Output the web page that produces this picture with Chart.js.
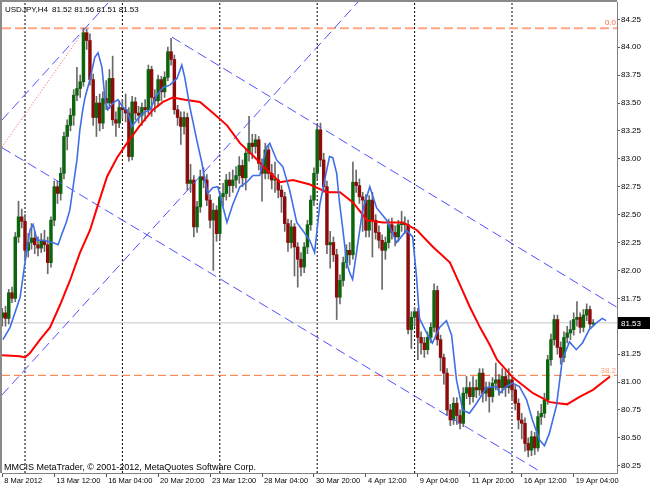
<!DOCTYPE html>
<html><head><meta charset="utf-8">
<script src="https://cdn.jsdelivr.net/npm/chart.js@4.4.1/dist/chart.umd.min.js"></script>
<style>html,body{margin:0;padding:0;background:#fff;overflow:hidden}canvas{display:block}</style>
</head><body>
<canvas id="c" width="650" height="488"></canvas>
<script>
// ---- data (USDJPY, H4) ----
const symbolTitle = 'USDJPY,H4';
const copyrightText = 'MMCIS MetaTrader, \u00A9 2001-2012, MetaQuotes Software Corp.';
const opens = [81.58,81.62,81.57,81.80,81.75,82.30,82.48,82.44,82.18,82.25,82.29,82.23,82.20,82.27,82.23,82.07,82.45,82.75,82.69,82.87,
83.20,83.30,83.39,83.57,83.63,83.69,84.13,84.06,83.71,83.37,83.50,83.32,83.54,83.50,83.72,83.35,83.32,83.46,83.44,83.41,
83.02,83.51,83.41,83.39,83.46,83.44,83.80,83.55,83.52,83.71,83.60,83.73,83.96,83.89,83.44,83.37,83.29,83.37,82.78,82.81,
82.39,82.57,82.84,82.81,82.63,82.45,82.54,82.33,82.66,82.69,82.81,82.76,82.81,82.85,82.94,82.83,83.05,83.14,83.11,83.17,
82.96,82.87,83.08,82.87,82.81,82.81,82.72,82.66,82.42,82.25,82.39,82.21,82.10,82.03,82.21,82.41,82.63,82.87,83.26,82.99,
82.75,82.23,82.25,82.14,81.76,81.91,82.07,82.18,82.14,82.79,82.76,82.66,82.63,82.36,82.63,82.45,82.34,82.27,82.18,82.25,
82.41,82.34,82.30,82.41,82.42,82.41,81.47,81.58,81.63,81.40,81.35,81.29,81.40,81.49,81.82,81.38,81.22,81.08,80.75,80.66,
80.81,80.70,80.63,80.90,80.95,80.87,80.95,80.93,81.08,80.90,80.95,80.87,80.99,81.02,80.95,81.05,80.95,81.02,80.93,80.81,
80.66,80.63,80.45,80.39,80.51,80.41,80.69,80.72,80.84,81.20,81.38,81.56,81.31,81.22,81.40,81.44,81.47,81.56,81.58,81.49,
81.60,81.65,81.52];
const highs = [81.66,81.68,81.83,81.85,82.34,82.62,82.55,82.50,82.33,82.42,82.35,82.30,82.33,82.36,82.30,82.48,82.80,82.80,82.92,83.24,
83.35,83.45,83.62,83.82,83.75,84.17,84.16,84.12,83.76,83.56,83.58,83.60,83.70,83.80,83.92,83.42,83.52,83.53,83.58,83.46,
83.56,83.55,83.47,83.50,83.53,83.84,83.83,83.62,83.75,83.74,83.78,84.00,84.08,83.93,83.48,83.42,83.42,83.41,82.95,82.85,
82.62,82.90,82.92,82.86,82.68,82.60,82.58,82.70,82.78,82.86,82.88,82.90,82.93,83.02,82.99,83.09,83.38,83.22,83.22,83.20,
83.00,83.14,83.12,82.95,82.97,82.86,82.76,82.70,82.46,82.45,82.42,82.25,82.16,82.25,82.45,82.67,82.92,83.30,83.32,83.05,
82.80,82.35,82.30,82.19,81.96,82.12,82.23,82.25,82.97,82.90,82.82,82.70,82.68,82.67,82.70,82.50,82.40,82.32,82.30,82.46,
82.47,82.40,82.45,82.53,82.48,82.45,81.63,81.67,81.66,81.45,81.40,81.45,81.53,81.88,81.86,81.42,81.25,81.12,80.80,80.86,
80.86,80.75,80.95,81.05,81.00,81.05,81.02,81.12,81.12,81.00,81.00,81.04,81.17,81.07,81.12,81.10,81.12,81.06,80.97,80.85,
80.72,80.68,80.50,80.56,80.55,80.74,80.80,80.90,81.24,81.43,81.60,81.60,81.36,81.45,81.50,81.55,81.62,81.72,81.62,81.65,
81.70,81.68,81.56];
const lows = [81.50,81.50,81.52,81.71,81.72,82.25,82.38,82.10,82.12,82.19,82.15,82.13,82.16,82.17,81.97,82.03,82.40,82.60,82.63,82.82,
83.08,83.25,83.30,83.52,83.55,83.65,83.98,83.66,83.30,83.20,83.25,83.27,83.44,83.45,83.30,83.20,83.28,83.36,83.33,82.98,
82.99,83.35,83.32,83.30,83.34,83.40,83.38,83.42,83.47,83.52,83.55,83.70,83.84,83.40,83.30,83.13,83.22,82.72,82.70,82.30,
82.34,82.52,82.74,82.58,82.38,82.00,82.26,82.28,82.58,82.63,82.66,82.70,82.74,82.78,82.75,82.72,82.98,83.00,83.05,82.90,
82.62,82.82,82.82,82.73,82.70,82.65,82.52,82.35,82.17,82.20,81.95,81.85,81.95,81.98,82.15,82.36,82.58,82.82,82.93,82.70,
82.15,82.02,82.08,81.56,81.70,81.86,82.02,82.05,82.10,82.70,82.60,82.35,82.30,82.30,82.12,82.28,82.20,81.83,82.10,82.20,
82.28,82.22,82.26,82.35,82.33,81.43,81.30,81.50,81.20,81.25,81.22,81.25,81.35,81.45,81.33,81.10,80.98,80.70,80.61,80.62,
80.62,80.58,80.60,80.85,80.80,80.82,80.86,80.88,80.82,80.83,80.73,80.82,80.93,80.88,80.90,80.87,80.90,80.85,80.75,80.58,
80.49,80.38,80.33,80.34,80.35,80.38,80.62,80.68,80.80,81.15,81.33,81.25,81.16,81.18,81.35,81.38,81.42,81.50,81.44,81.45,
81.55,81.48,81.51];
const closes = [81.62,81.57,81.80,81.75,82.30,82.48,82.44,82.18,82.25,82.29,82.23,82.20,82.27,82.23,82.07,82.45,82.75,82.69,82.87,83.20,
83.30,83.39,83.57,83.63,83.69,84.13,84.06,83.71,83.37,83.50,83.32,83.54,83.50,83.72,83.35,83.32,83.46,83.44,83.41,83.02,
83.51,83.41,83.39,83.46,83.44,83.80,83.55,83.52,83.71,83.60,83.73,83.96,83.89,83.44,83.37,83.29,83.37,82.78,82.81,82.39,
82.57,82.84,82.81,82.63,82.45,82.54,82.33,82.66,82.69,82.81,82.76,82.81,82.85,82.94,82.83,83.05,83.14,83.11,83.17,82.96,
82.87,83.08,82.87,82.81,82.81,82.72,82.66,82.42,82.25,82.39,82.21,82.10,82.03,82.21,82.41,82.63,82.87,83.26,82.99,82.75,
82.23,82.25,82.14,81.76,81.91,82.07,82.18,82.14,82.79,82.76,82.66,82.63,82.36,82.63,82.45,82.34,82.27,82.18,82.25,82.41,
82.34,82.30,82.41,82.42,82.41,81.47,81.58,81.63,81.40,81.35,81.29,81.40,81.49,81.82,81.38,81.22,81.08,80.75,80.66,80.81,
80.70,80.63,80.90,80.95,80.87,80.95,80.93,81.08,80.90,80.95,80.87,80.99,81.02,80.95,81.05,80.95,81.02,80.93,80.81,80.66,
80.63,80.45,80.39,80.51,80.41,80.69,80.72,80.84,81.20,81.38,81.56,81.31,81.22,81.40,81.44,81.47,81.56,81.58,81.49,81.60,
81.65,81.52,81.53];

// fast moving average (blue): bar index / value
const blueIdx = [0.2,2.4,5.5,7,8.5,9.5,10.7,12.5,15.6,17.2,18.4,19.7,20.8,23,23.9,24.8,25.5,27,28.5,29.5,30.7,31.6,32.5,34.1,35.6,37.2,38.4,39.9,41.5,43.3,
45.5,47.6,49.5,51.6,53.8,55.3,56.2,57.8,59.9,61.5,62.4,63.3,64.8,66.4,69.2,71,73.2,75.3,77.2,79.3,81.5,82.4,84.5,86.4,88.5,90.7,92.5,94.7,96.2,97.8,
99.3,100.8,101.8,103,103.9,104.8,106.1,107,107.9,109.2,111,113.2,115.3,118.4,121.5,124.5,126.4,127.6,128.5,130.7,132.5,134.7,136.8,138.4,139.9,141.8,143.9,146.1,149.1,152.2,
153.2,155.3,157.2,159.3,161.5,163.3,165.5,167,168.5,170.7,172.5,174.7,176.8,178.7,180.8,183,184.8,186];
const blueVal = [81.38,81.49,81.76,82.07,82.36,82.41,82.27,82.27,82.25,82.23,82.33,82.43,82.54,82.99,83.26,83.44,83.55,83.71,83.91,83.95,83.82,83.55,83.44,83.50,83.53,83.46,83.44,83.29,83.35,83.41,
83.44,83.57,83.64,83.66,83.72,83.84,83.73,83.46,83.17,82.96,82.81,82.69,82.74,82.75,82.43,82.59,82.75,82.79,82.85,82.85,83.11,83.14,82.99,82.93,82.72,82.43,82.36,82.27,82.16,82.59,
82.81,83.02,83.01,82.87,82.60,82.39,82.07,81.98,81.92,82.18,82.54,82.75,82.56,82.45,82.25,82.36,82.30,81.94,81.57,81.44,81.35,81.49,81.55,81.42,81.02,80.75,80.72,80.81,80.95,80.96,
80.90,80.96,80.99,80.96,80.84,80.66,80.48,80.43,80.54,80.79,81.20,81.36,81.29,81.35,81.47,81.53,81.57,81.55];
// slow moving average (red)
const redIdx = [-0.08,5.46,7.0,8.54,11.62,14.70,17.78,20.86,23.94,27.02,29.18,32.26,35.34,38.42,42.42,46.43,49.51,52.59,56.28,60.90,
64.91,69.22,73.22,77.22,81.54,85.54,89.55,94.78,100.02,104.02,108.03,112.34,117.27,123.43,127.74,132.67,137.90,140.98,144.06,147.14,
150.22,152.38,157.31,163.47,168.70,173.94,177.94,181.95,187.19];
const redVal = [81.24,81.23,81.22,81.26,81.38,81.49,81.69,81.91,82.16,82.36,82.56,82.84,83.01,83.14,83.30,83.44,83.51,83.55,83.53,83.51,
83.41,83.30,83.14,83.03,82.90,82.79,82.81,82.77,82.70,82.70,82.61,82.45,82.43,82.43,82.36,82.21,82.07,81.87,81.67,81.49,
81.33,81.20,81.04,80.90,80.82,80.80,80.87,80.93,81.05];

// drawn objects: trend channel lines (start/end bar index and price)
const chanDownUpperIdx = [52.28, 189.34], chanDownUpperVal = [84.09, 81.67];
const chanDownLowerIdx = [-0.08, 165.6],  chanDownLowerVal = [83.10, 80.20];
const chanUpLowerIdx   = [-0.08, 109.57], chanUpLowerVal   = [80.884, 84.405];
const chanUpUpperIdx   = [-0.08, 32.57],  chanUpUpperVal   = [83.348, 84.396];
const fiboAnchorIdx    = [-0.08, 25.48],  fiboAnchorVal    = [83.106, 84.163];
const fibLevels = [84.17, 81.06];
const fibLabels = ['0.0', '38.2'];
const bidPrice = 81.53;

// axes
const weekStarts = [7, 37, 67, 97, 127, 157];
const dateTickIdx = [0,16,32,48,64,80,96,112,128,144,160,176];
const dateLabels = ['8 Mar 2012','13 Mar 12:00','16 Mar 04:00','20 Mar 20:00','23 Mar 12:00','28 Mar 04:00','30 Mar 20:00','4 Apr 12:00','9 Apr 04:00','11 Apr 20:00','16 Apr 12:00','19 Apr 04:00'];
const yTicks = [80.25,80.50,80.75,81.00,81.25,81.50,81.75,82.00,82.25,82.50,82.75,83.00,83.25,83.50,83.75,84.00,84.25];

// ---- view ----
const X_MIN = -0.083, X_MAX = 189.34;
const Y_MAX = 84.405, Y_MIN = 80.185;
const FONT = 'Liberation Sans';
const UP = '#0b650b', DOWN = '#8e0b0b';

const seg = (ix, vals) => ix.map((x, k) => ({x, y: vals[k]}));
const hline = v => [{x: X_MIN, y: v}, {x: X_MAX, y: v}];
const vline = i => [{x: i, y: Y_MIN}, {x: i, y: Y_MAX}];
const lineDs = (data, color, width, dash, order) => ({type: 'line', data, borderColor: color, borderWidth: width,
  borderDash: dash, pointRadius: 0, fill: false, tension: 0, order, xAxisID: 'x', yAxisID: 'y', borderCapStyle: 'butt'});

const datasets = [
  ...weekStarts.map(w => lineDs(vline(w), '#000000', 1, [2, 2], 30)),
  lineDs(hline(bidPrice), '#c4c4c4', 1, [], 20),
  lineDs(hline(fibLevels[0]), '#ffa585', 2, [9, 4], 19),
  lineDs(hline(fibLevels[1]), '#ff6f3c', 1, [8, 4], 18),
  {type: 'bar', data: closes.map((c, i) => ({x: i, y: [lows[i], highs[i]]})), backgroundColor: '#6a6a6a',
   barThickness: 1, grouped: false, order: 12, xAxisID: 'x', yAxisID: 'y'},
  {type: 'bar', data: closes.map((c, i) => ({x: i, y: [opens[i], c]})),
   backgroundColor: ctx => (closes[ctx.dataIndex] >= opens[ctx.dataIndex] ? UP : DOWN),
   barThickness: 2.8, minBarLength: 1, grouped: false, order: 11, xAxisID: 'x', yAxisID: 'y'},
  lineDs(seg(chanDownUpperIdx, chanDownUpperVal), '#5050ff', 1, [10, 5], 5),
  lineDs(seg(chanDownLowerIdx, chanDownLowerVal), '#5050ff', 1, [10, 5], 5),
  lineDs(seg(chanUpLowerIdx, chanUpLowerVal), '#5050ff', 1, [10, 5], 5),
  lineDs(seg(chanUpUpperIdx, chanUpUpperVal), '#5050ff', 1, [10, 5], 5),
  lineDs(seg(fiboAnchorIdx, fiboAnchorVal), '#ff5050', 1, [1, 2], 5),
  lineDs(seg(redIdx, redVal), '#ff0000', 2, [], 2),
  lineDs(seg(blueIdx, blueVal), '#3f6fe8', 1.6, [], 1)
];

const overlay = {
  id: 'overlay',
  beforeDraw(chart) {
    const c = chart.ctx; c.save(); c.fillStyle = '#fff'; c.fillRect(0, 0, chart.width, chart.height); c.restore();
  },
  afterDraw(chart) {
    const c = chart.ctx, a = chart.chartArea, y = chart.scales.y;
    c.save();
    c.fillStyle = '#8a8a8a';
    c.fillRect(0, 0, 2, a.bottom);
    c.fillRect(0, 0, a.right, 2);
    c.font = '8px "' + FONT + '"';
    c.textAlign = 'right'; c.textBaseline = 'bottom';
    const labCol = ['#ff6a3a', '#ffa07a'];
    fibLevels.forEach((lv, k) => { c.fillStyle = labCol[k]; c.fillText(fibLabels[k], a.right - 1, y.getPixelForValue(lv) - 1); });
    const py = Math.round(y.getPixelForValue(bidPrice));
    c.fillStyle = '#000'; c.fillRect(a.right + 1, py - 6, chart.width - a.right - 1, 12);
    c.fillStyle = '#fff'; c.textAlign = 'left'; c.textBaseline = 'middle';
    c.fillText(bidPrice.toFixed(2), a.right + 4, py + 0.5);
    const L = closes.length - 1;
    c.fillStyle = '#000'; c.textBaseline = 'alphabetic';
    c.fillText(symbolTitle, 5, 12);
    c.fillText([opens[L], highs[L], lows[L], closes[L]].map(v => v.toFixed(2)).join(' '), 52, 12);
    c.font = '9px "' + FONT + '"';
    c.fillText(copyrightText, 4, 470);
    c.restore();
  }
};

new Chart(document.getElementById('c'), {
  type: 'bar',
  data: {datasets},
  options: {
    responsive: false, animation: false, devicePixelRatio: 1,
    layout: {padding: {left: 2, top: 2, right: 0, bottom: 0}},
    plugins: {legend: {display: false}, tooltip: {enabled: false}},
    scales: {
      x: {type: 'linear', position: 'bottom', min: X_MIN, max: X_MAX, offset: false,
        afterBuildTicks: s => { s.ticks = dateTickIdx.map(v => ({value: v})); },
        afterFit: s => { s.height = 15; s.paddingLeft = 0; s.paddingRight = 0; },
        grid: {offset: false, drawOnChartArea: false, drawTicks: true, tickLength: 4, color: '#555'},
        border: {display: true, color: '#808080', width: 1},
        ticks: {autoSkip: false, maxRotation: 0, minRotation: 0, align: 'start', labelOffset: 2, padding: 0,
          color: '#000', font: {family: FONT, size: 7.5, lineHeight: 1}, callback: (v, i) => dateLabels[i]}},
      y: {type: 'linear', position: 'right', min: Y_MIN, max: Y_MAX,
        afterBuildTicks: s => { s.ticks = yTicks.map(v => ({value: v})); },
        afterFit: s => { s.width = 33; s.paddingTop = 0; s.paddingBottom = 0; },
        grid: {drawOnChartArea: false, drawTicks: true, tickLength: 3, color: '#555'},
        border: {display: true, color: '#808080', width: 1},
        ticks: {autoSkip: false, padding: 1, color: '#000', font: {family: FONT, size: 8}, callback: v => v.toFixed(2)}}
    }
  },
  plugins: [overlay]
});
</script>
</body></html>
